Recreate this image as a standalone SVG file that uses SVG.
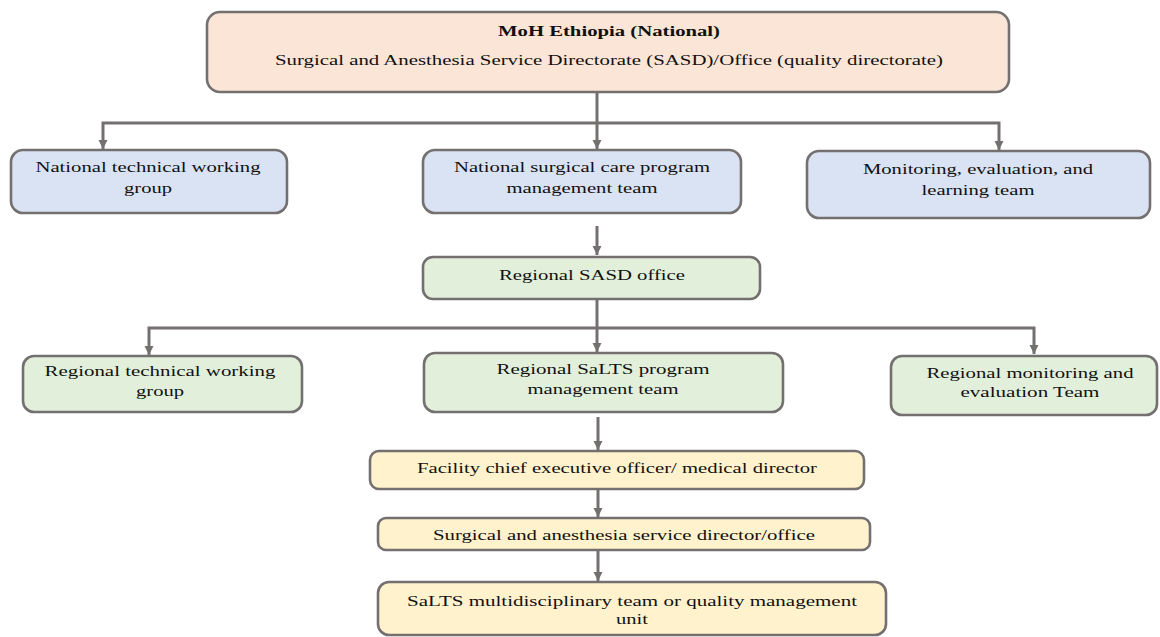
<svg xmlns="http://www.w3.org/2000/svg" width="1160" height="637" viewBox="0 0 1160 637">
<style>
.box{stroke:#757070;stroke-width:2.6}
.peach{fill:#FBE5D6}.blue{fill:#DAE3F3}.green{fill:#E2EFDA}.yellow{fill:#FFF2CC}
text{font-family:"Liberation Serif","Times New Roman",serif;font-size:14.5px;fill:#111;text-anchor:middle}
.b{font-weight:bold}
.con{fill:none;stroke:#757070;stroke-width:3}
</style>
<defs>
<marker id="ah" markerUnits="userSpaceOnUse" markerWidth="12" markerHeight="12" viewBox="0 0 12 12" refX="10" refY="6" orient="auto">
<path d="M1 1.5 L10 6 L1 10.5 Z" fill="#757070"/>
</marker>
</defs>
<g id="connectors">
<path class="con" d="M597 92 V149" marker-end="url(#ah)"/>
<path class="con" d="M597 123 H103 V149" marker-end="url(#ah)"/>
<path class="con" d="M597 123 H999 V150" marker-end="url(#ah)"/>
<path class="con" d="M597 226 V255" marker-end="url(#ah)"/>
<path class="con" d="M597 299 V352" marker-end="url(#ah)"/>
<path class="con" d="M597 328 H149 V355" marker-end="url(#ah)"/>
<path class="con" d="M597 328 H1034 V354" marker-end="url(#ah)"/>
<path class="con" d="M598 417 V450" marker-end="url(#ah)"/>
<path class="con" d="M598 489 V517" marker-end="url(#ah)"/>
<path class="con" d="M598 550 V581" marker-end="url(#ah)"/>
</g>
<g id="moh">
<rect class="box peach" x="207" y="12" width="802" height="80" rx="13"/>
<text class="b" x="609" y="36" textLength="222" lengthAdjust="spacingAndGlyphs">MoH Ethiopia (National)</text>
<text x="609" y="65" textLength="668" lengthAdjust="spacingAndGlyphs">Surgical and Anesthesia Service Directorate (SASD)/Office (quality directorate)</text>
</g>
<g id="national-twg">
<rect class="box blue" x="11" y="150" width="276" height="63" rx="12"/>
<text x="148" y="172" textLength="225" lengthAdjust="spacingAndGlyphs">National technical working</text>
<text x="148" y="193" textLength="48" lengthAdjust="spacingAndGlyphs">group</text>
</g>
<g id="national-pmt">
<rect class="box blue" x="423" y="150" width="318" height="63" rx="12"/>
<text x="582" y="172" textLength="256" lengthAdjust="spacingAndGlyphs">National surgical care program</text>
<text x="582" y="193" textLength="151" lengthAdjust="spacingAndGlyphs">management team</text>
</g>
<g id="national-mel">
<rect class="box blue" x="807" y="151" width="343" height="67" rx="12"/>
<text x="978" y="174" textLength="230" lengthAdjust="spacingAndGlyphs">Monitoring, evaluation, and</text>
<text x="978" y="195" textLength="113" lengthAdjust="spacingAndGlyphs">learning team</text>
</g>
<g id="regional-sasd">
<rect class="box green" x="423" y="257" width="337" height="42" rx="10"/>
<text x="592" y="280" textLength="186" lengthAdjust="spacingAndGlyphs">Regional SASD office</text>
</g>
<g id="regional-twg">
<rect class="box green" x="23" y="356" width="279" height="56" rx="11"/>
<text x="160" y="376" textLength="231" lengthAdjust="spacingAndGlyphs">Regional technical working</text>
<text x="160" y="396" textLength="48" lengthAdjust="spacingAndGlyphs">group</text>
</g>
<g id="regional-pmt">
<rect class="box green" x="424" y="353" width="359" height="59" rx="11"/>
<text x="603" y="374" textLength="213" lengthAdjust="spacingAndGlyphs">Regional SaLTS program</text>
<text x="603" y="394" textLength="151" lengthAdjust="spacingAndGlyphs">management team</text>
</g>
<g id="regional-me">
<rect class="box green" x="891" y="356" width="266" height="59" rx="11"/>
<text x="1030" y="378" textLength="207" lengthAdjust="spacingAndGlyphs">Regional monitoring and</text>
<text x="1030" y="397" textLength="139" lengthAdjust="spacingAndGlyphs">evaluation Team</text>
</g>
<g id="facility-ceo">
<rect class="box yellow" x="370" y="451" width="494" height="38" rx="9"/>
<text x="617" y="473" textLength="400" lengthAdjust="spacingAndGlyphs">Facility chief executive officer/ medical director</text>
</g>
<g id="facility-sasd">
<rect class="box yellow" x="378" y="518" width="492" height="32" rx="8"/>
<text x="624" y="540" textLength="382" lengthAdjust="spacingAndGlyphs">Surgical and anesthesia service director/office</text>
</g>
<g id="salts-mdt">
<rect class="box yellow" x="378" y="582" width="508" height="53" rx="11"/>
<text x="632" y="606" textLength="450" lengthAdjust="spacingAndGlyphs">SaLTS multidisciplinary team or quality management</text>
<text x="632" y="624" textLength="32" lengthAdjust="spacingAndGlyphs">unit</text>
</g>
</svg>
